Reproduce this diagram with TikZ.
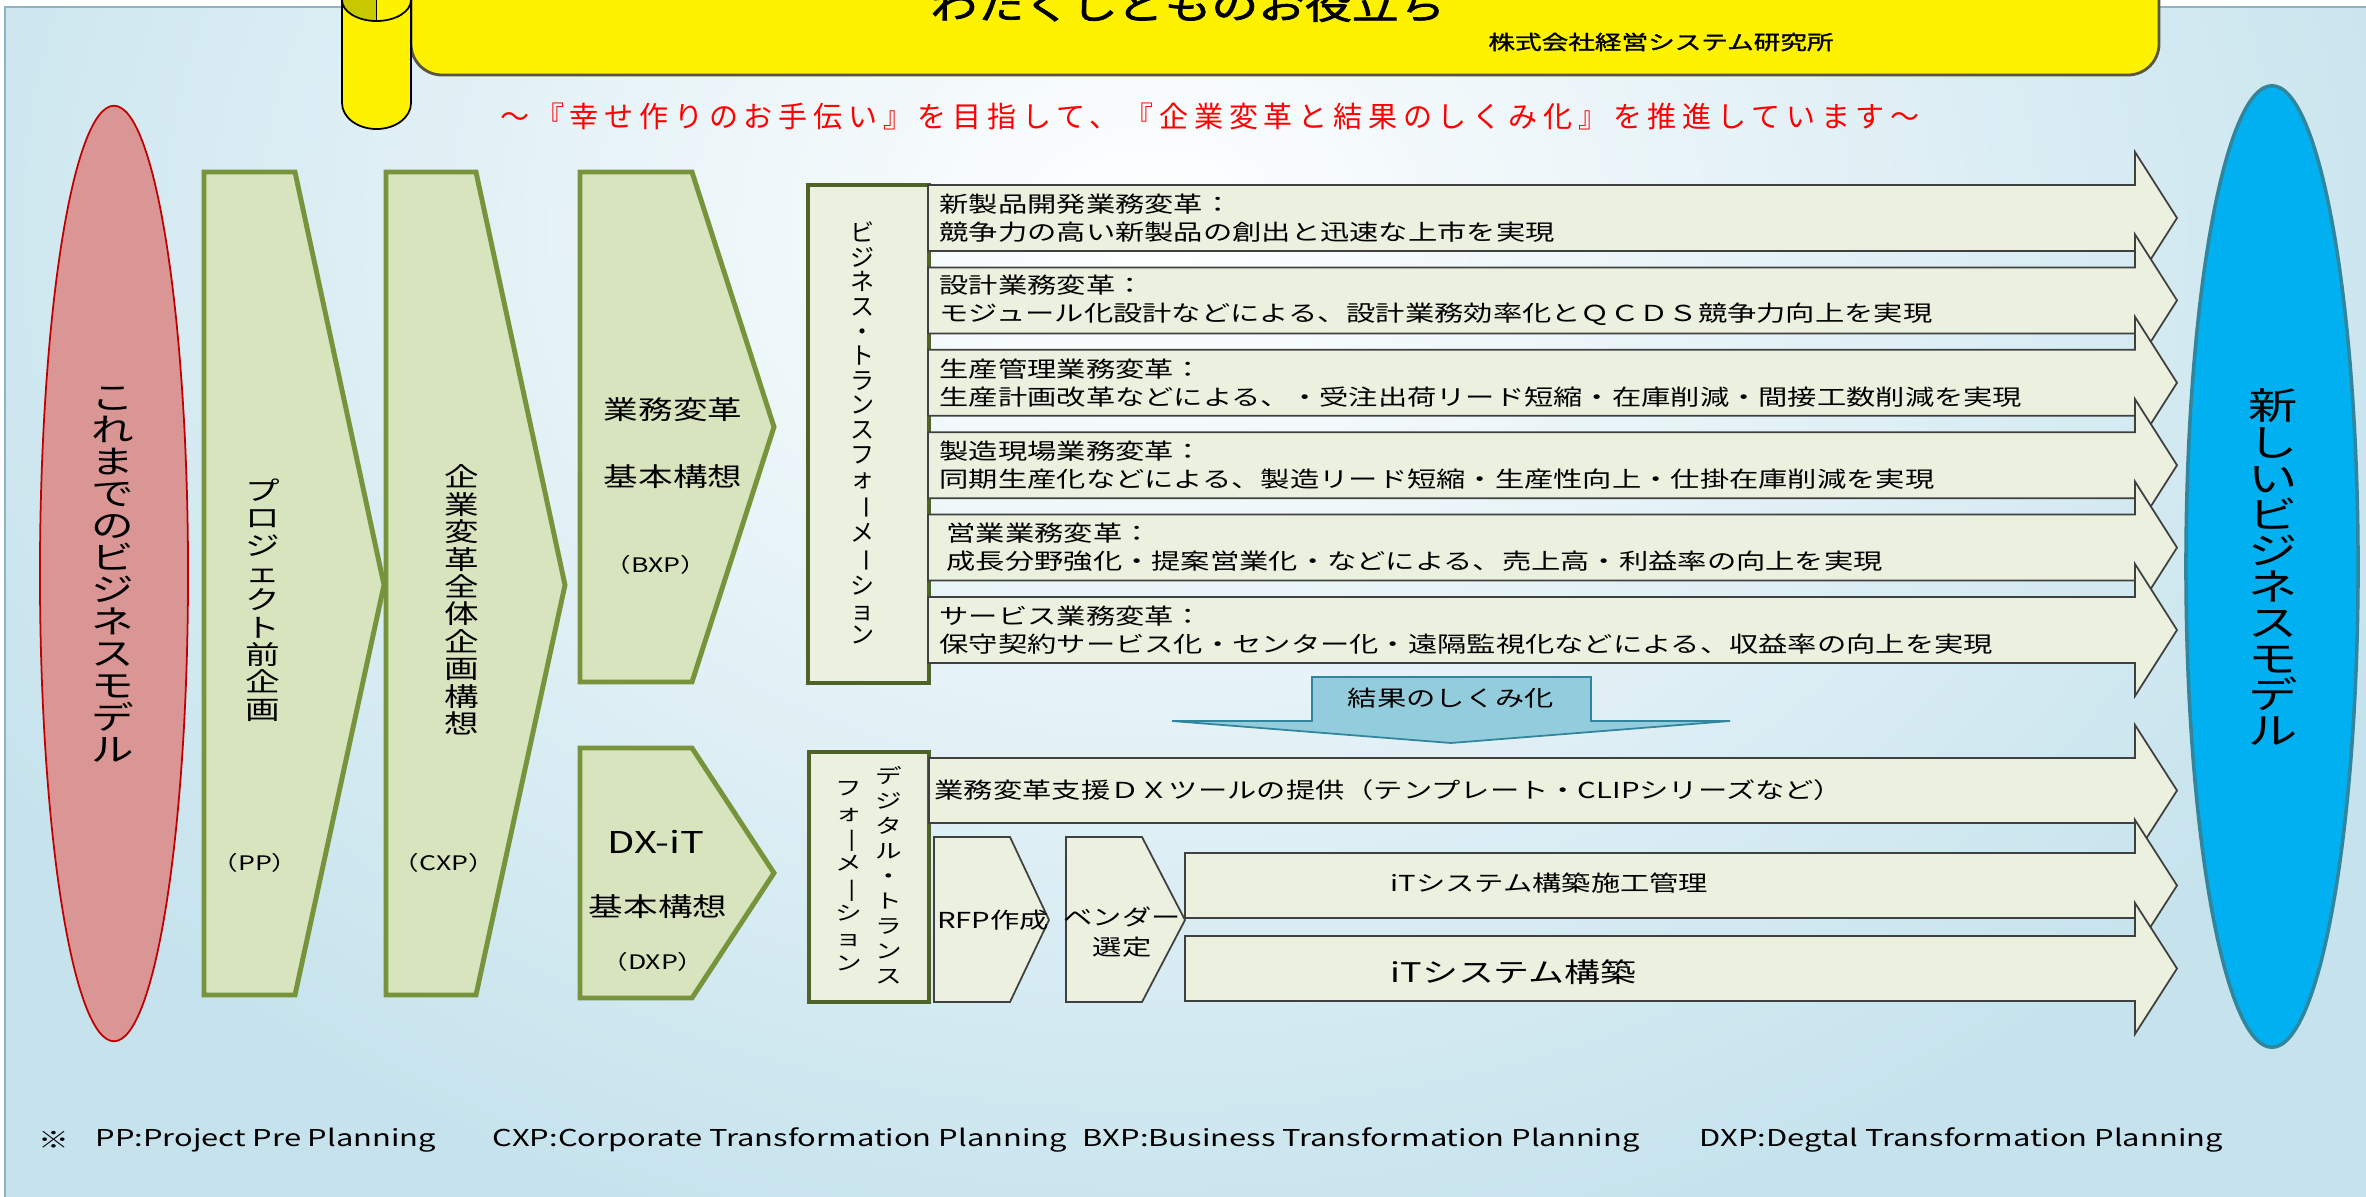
\documentclass[tikz,border=0pt]{standalone}
\usepackage{fontspec}
\setmainfont{Noto Sans CJK JP}[FakeStretch=1.33]
\newfontfamily\sqfont{Noto Sans CJK JP}
\newfontfamily\redfont{Noto Sans CJK JP}[LetterSpace=20]
\newfontfamily\boldfont{Noto Sans CJK JP}[FakeStretch=1.33,FakeBold=1.5]
\newfontfamily\titlefont{Noto Sans CJK JP}[FakeStretch=1.3,FakeBold=2]
\definecolor{bgblue}{HTML}{C6E3ED}
\definecolor{panelline}{HTML}{8FB4C4}
\definecolor{darkyel}{HTML}{C8C800}
\definecolor{arrowfill}{HTML}{EBF1DE}
\definecolor{arrowdraw}{HTML}{404040}
\definecolor{pentfill}{HTML}{D7E4BD}
\definecolor{pentdraw}{HTML}{77933C}
\definecolor{boxdraw}{HTML}{4F6228}
\definecolor{kekkafill}{HTML}{93CDDD}
\definecolor{kekkadraw}{HTML}{31859C}
\definecolor{redell}{HTML}{D99694}
\definecolor{redelldraw}{HTML}{C00000}
\definecolor{blueell}{HTML}{00B0F0}
\definecolor{blueelldraw}{HTML}{31859C}
\newcommand\vb{\rotatebox[origin=c]{-90}{ー}}
\newcommand\rarrow[3]{%
  \filldraw[arrowbox] (#1,#2) -- (2135,#2) -- (2135,#2-33) -- (2177,{(#2+#3)/2})
    -- (2135,#3+33) -- (2135,#3) -- (#1,#3) -- cycle;}
\tikzset{
  pentagon/.style={fill=pentfill, draw=pentdraw, line width=1.4pt, line join=miter},
  arrowbox/.style={fill=arrowfill, draw=arrowdraw, line width=0.5pt},
  labelbox/.style={fill=arrowfill, draw=boxdraw, line width=1.1pt},
  itemtext/.style={anchor=west, align=left, inner sep=0pt, font=\fontsize{6.26pt}{7.97pt}\selectfont},
  vtext/.style={align=center, inner sep=0pt},
  plain/.style={inner sep=0pt},
  paren/.style={inner sep=0pt, font=\fontsize{5.69pt}{6pt}\selectfont},
  foot/.style={anchor=west, inner sep=0pt, font=\fontsize{6.6pt}{7pt}\selectfont},
}
\begin{document}
\begin{tikzpicture}[x=0.01cm, y=-0.01cm]
\useasboundingbox (0,0) rectangle (2366,1197);
\fill[white] (0,0) rectangle (2366,1197);
% background panel
\begin{scope}
  \clip (5,7) rectangle (2380,1210);
  \fill[bgblue] (0,0) rectangle (2400,1220);
  \shade[inner color=white, outer color=bgblue] (1150,230) ellipse [x radius=13.5cm, y radius=10.5cm];
\end{scope}
\draw[panelline, line width=0.6pt] (5,1210) -- (5,7) -- (2380,7);
% banner
\filldraw[fill=yellow, draw=black!75!yellow, line width=0.8pt, rounded corners=0.31cm] (411,-60) rectangle (2159,75);
% scroll cylinder
\filldraw[fill=yellow, draw=black, line width=0.5pt] (342,-30) -- (342,103)
  arc[start angle=180, end angle=360, x radius=0.345cm, y radius=0.26cm] -- (411,-30) -- cycle;
\fill[yellow] (376.5,0) ellipse[x radius=0.345cm, y radius=0.21cm];
\fill[darkyel] (376.5,21) arc[start angle=270, end angle=90, x radius=0.345cm, y radius=0.21cm] -- cycle;
\draw[black, line width=0.5pt] (376.5,0) ellipse[x radius=0.345cm, y radius=0.21cm];
\draw[black, line width=0.5pt] (376.5,-21) -- (376.5,21);
% title texts
\node[plain, anchor=base, font=\titlefont\fontsize{10.24pt}{11pt}\selectfont] (title) at (1188,19) {わたくしどものお役立ち};
\node[plain, font=\boldfont\fontsize{5.69pt}{6pt}\selectfont] (company) at (1661,42) {株式会社経営システム研究所};
\node[plain, text=red, font=\redfont\fontsize{8.25pt}{9pt}\selectfont] (motto) at (1210,116)
  {～『幸せ作りのお手伝い』を目指して、『企業変革と結果のしくみ化』を推進しています～};
% ellipses
\filldraw[fill=redell, draw=redelldraw, line width=0.5pt] (114,573.5) ellipse[x radius=0.74cm, y radius=4.675cm];
\filldraw[fill=blueell, draw=blueelldraw, line width=1pt] (2272,566.5) ellipse[x radius=0.86cm, y radius=4.805cm];
\node[vtext, font=\fontsize{9.10pt}{9.10pt}\selectfont] (oldmodel) at (113,575)
  {こ\\れ\\ま\\で\\の\\ビ\\ジ\\ネ\\ス\\モ\\デ\\ル};
\node[vtext, font=\fontsize{10.53pt}{10.24pt}\selectfont] (newmodel) at (2273,567)
  {新\\し\\い\\ビ\\ジ\\ネ\\ス\\モ\\デ\\ル};
% stage pentagons
\filldraw[pentagon] (204,172) -- (295,172) -- (384,585) -- (295,995) -- (204,995) -- cycle;
\filldraw[pentagon] (386,172) -- (476,172) -- (565,585) -- (476,995) -- (386,995) -- cycle;
\filldraw[pentagon] (580,172) -- (692,172) -- (774,427) -- (692,682) -- (580,682) -- cycle;
\filldraw[pentagon] (580,748) -- (692,748) -- (774,873) -- (692,998) -- (580,998) -- cycle;
\node[vtext, font=\fontsize{7.40pt}{7.77pt}\selectfont] (pp) at (263,600)
  {プ\\ロ\\ジ\\ェ\\ク\\ト\\前\\企\\画};
\node[paren] (ppabbr) at (255,863) {（PP）};
\node[vtext, font=\fontsize{7.40pt}{7.80pt}\selectfont] (cxp) at (462,600)
  {企\\業\\変\\革\\全\\体\\企\\画\\構\\想};
\node[paren] (cxpabbr) at (444,863) {（CXP）};
\node[plain, font=\fontsize{7.40pt}{8pt}\selectfont] (bxp1) at (673,410) {業務変革};
\node[plain, font=\fontsize{7.40pt}{8pt}\selectfont] (bxp2) at (673,477) {基本構想};
\node[paren] (bxpabbr) at (656,565) {（BXP）};
\node[plain, font=\fontsize{8.54pt}{9pt}\selectfont] (dxp1) at (656,842) {DX-iT};
\node[plain, font=\fontsize{7.40pt}{8pt}\selectfont] (dxp2) at (658,907) {基本構想};
\node[paren] (dxpabbr) at (653,962) {（DXP）};
% business transformation
\filldraw[labelbox] (808,185) rectangle (929,683);
\node[vtext, font=\sqfont\fontsize{6.83pt}{7.0pt}\selectfont] (bt) at (863,433)
  {ビ\\ジ\\ネ\\ス\\・\\ト\\ラ\\ン\\ス\\フ\\ォ\\\vb\\メ\\\vb\\シ\\ョ\\ン};
\rarrow{928}{185}{251}
\rarrow{928}{267.4}{333.4}
\rarrow{928}{349.8}{415.8}
\rarrow{928}{432.2}{498.2}
\rarrow{928}{514.6}{580.6}
\rarrow{928}{597}{663}
\node[itemtext] (item1) at (939,218) {新製品開発業務変革：\\競争力の高い新製品の創出と迅速な上市を実現};
\node[itemtext] (item2) at (939,300.4) {設計業務変革：\\モジュール化設計などによる、設計業務効率化とＱＣＤＳ競争力向上を実現};
\node[itemtext] (item3) at (939,382.8) {生産管理業務変革：\\生産計画改革などによる、・受注出荷リード短縮・在庫削減・間接工数削減を実現};
\node[itemtext] (item4) at (939,465.2) {製造現場業務変革：\\同期生産化などによる、製造リード短縮・生産性向上・仕掛在庫削減を実現};
\node[itemtext] (item5) at (946,547.6) {営業業務変革：\\成長分野強化・提案営業化・などによる、売上高・利益率の向上を実現};
\node[itemtext] (item6) at (939,630) {サービス業務変革：\\保守契約サービス化・センター化・遠隔監視化などによる、収益率の向上を実現};
% result arrow
\filldraw[fill=kekkafill, draw=kekkadraw, line width=0.5pt] (1312,677) -- (1591,677) -- (1591,721)
  -- (1730,721) -- (1451,743) -- (1172,721) -- (1312,721) -- cycle;
\node[plain, font=\fontsize{6.26pt}{7pt}\selectfont] (kekka) at (1451,698) {結果のしくみ化};
% digital transformation
\filldraw[labelbox] (809,752) rectangle (929,1002);
\node[vtext, font=\fontsize{5.69pt}{7.11pt}\selectfont] (dt1) at (889,875.5)
  {デ\\ジ\\タ\\ル\\・\\ト\\ラ\\ン\\ス};
\node[vtext, font=\fontsize{5.69pt}{7.11pt}\selectfont] (dt2) at (849,876)
  {フ\\ォ\\\vb\\メ\\\vb\\シ\\ョ\\ン};
\rarrow{929}{758}{823}
\rarrow{1185}{853}{918}
\rarrow{1185}{936}{1001}
\filldraw[arrowbox] (934,837) -- (1010,837) -- (1049,920) -- (1010,1002) -- (934,1002) -- cycle;
\filldraw[arrowbox] (1066,837) -- (1142,837) -- (1185,920) -- (1142,1002) -- (1066,1002) -- cycle;
\node[itemtext] (dxtool) at (934,790) {業務変革支援ＤＸツールの提供（テンプレート・CLIPシリーズなど）};
\node[plain, anchor=west, font=\fontsize{6.26pt}{7pt}\selectfont] (itmgmt) at (1390,883) {iTシステム構築施工管理};
\node[plain, anchor=west, font=\fontsize{7.68pt}{8pt}\selectfont] (itbuild) at (1390,972) {iTシステム構築};
\node[plain, font=\fontsize{6.26pt}{7pt}\selectfont] (rfp) at (993,920) {RFP作成};
\node[vtext, font=\fontsize{6.26pt}{8.5pt}\selectfont] (vendor) at (1122,932) {ベンダー\\選定};
% footer
\node[foot] (f0) at (38,1140) {※};
\node[foot] (f1) at (95,1140) {PP:Project Pre Planning};
\node[foot] (f2) at (492,1140) {CXP:Corporate Transformation Planning};
\node[foot] (f3) at (1082,1140) {BXP:Business Transformation Planning};
\node[foot] (f4) at (1699,1140) {DXP:Degtal Transformation Planning};
\end{tikzpicture}
\end{document}
